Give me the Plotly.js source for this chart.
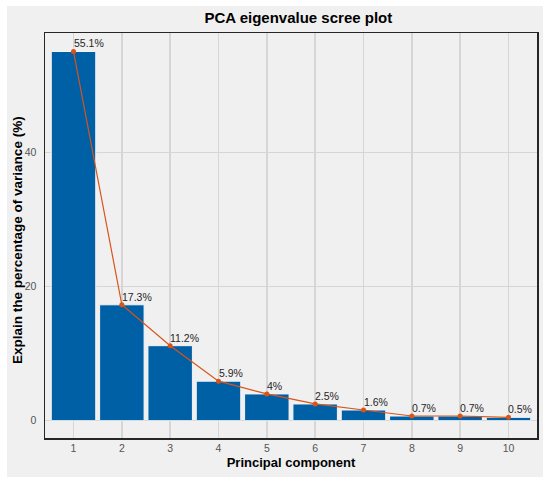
<!DOCTYPE html>
<html><head><meta charset="utf-8">
<script src="https://cdn.plot.ly/plotly-3.0.1.min.js"></script>
<style>
html,body{margin:0;padding:0;background:#ffffff;width:550px;height:483px;overflow:hidden;}
#plot{position:absolute;left:7px;top:6px;width:536px;height:471px;}
</style></head>
<body><div id="plot"></div>
<script>
const components = [1,2,3,4,5,6,7,8,9,10];
const variance = [55.1,17.3,11.2,5.9,4,2.5,1.6,0.7,0.7,0.5];
const labels = variance.map(v => v + '%');
const tickVals = [0,20,40];
const titleText = 'PCA eigenvalue scree plot';
const xTitle = 'Principal component';
const yTitle = 'Explain the percentage of variance (%)';

const FONT = 'Liberation Sans, Arial, sans-serif';

const bars = {
  type:'bar', x:components, y:variance, width:0.92,
  marker:{color:'#0060A6', line:{color:'#F4F4F4', width:1}},
  hoverinfo:'skip', showlegend:false
};
const line = {
  type:'scatter', mode:'lines+markers', x:components, y:variance,
  line:{color:'#D95319', width:1.2},
  marker:{color:'#D95319', size:5},
  showlegend:false, cliponaxis:false
};
const valueAnnotations = components.map((c,i) => ({
  x:c, y:variance[i], xref:'x', yref:'y', text:labels[i], showarrow:false,
  xanchor:'left', yanchor:'bottom', xshift:-2, yshift:0,
  font:{family:FONT, size:10.5, color:'#262626'}
}));
const yTitleAnn = {
  xref:'paper', yref:'paper', x:-0.0549, y:0.489, xanchor:'center', yanchor:'middle',
  text:'<b>'+yTitle+'</b>', textangle:-90, showarrow:false,
  font:{family:FONT, size:13.5, color:'#000'}
};
const layout = {
  width:536, height:471,
  margin:{l:38, r:6, t:27, b:39},
  paper_bgcolor:'#F0F0F0', plot_bgcolor:'#F0F0F0',
  font:{family:FONT, color:'#262626'},
  title:{text:'<b>'+titleText+'</b>', font:{size:15, color:'#000'}, x:0.5435, xanchor:'center', y:0.975, yanchor:'middle'},
  xaxis:{
    range:[0.41,10.59], tickvals:components, ticktext:components.map(String),
    showgrid:true, gridcolor:'#D6D6D6', gridwidth:1.5, zeroline:false,
    showline:true, linecolor:'#262626', linewidth:1.5, mirror:true,
    ticks:'', tickfont:{size:10.5, color:'#555555'},
    title:{text:'<b>'+xTitle+'</b>', font:{size:13, color:'#000'}, standoff:5}
  },
  yaxis:{
    range:[-2.58,57.86], tickvals:tickVals,
    showgrid:true, gridcolor:'#D6D6D6', gridwidth:1.5, zeroline:false,
    showline:true, linecolor:'#262626', linewidth:1.5, mirror:true,
    ticks:'', tickfont:{size:10.5, color:'#555555'}, ticklabelstandoff:5
  },
  annotations:[...valueAnnotations, yTitleAnn]
};
Plotly.newPlot('plot',[bars,line],layout,{displayModeBar:false, staticPlot:true});
</script></body></html>
